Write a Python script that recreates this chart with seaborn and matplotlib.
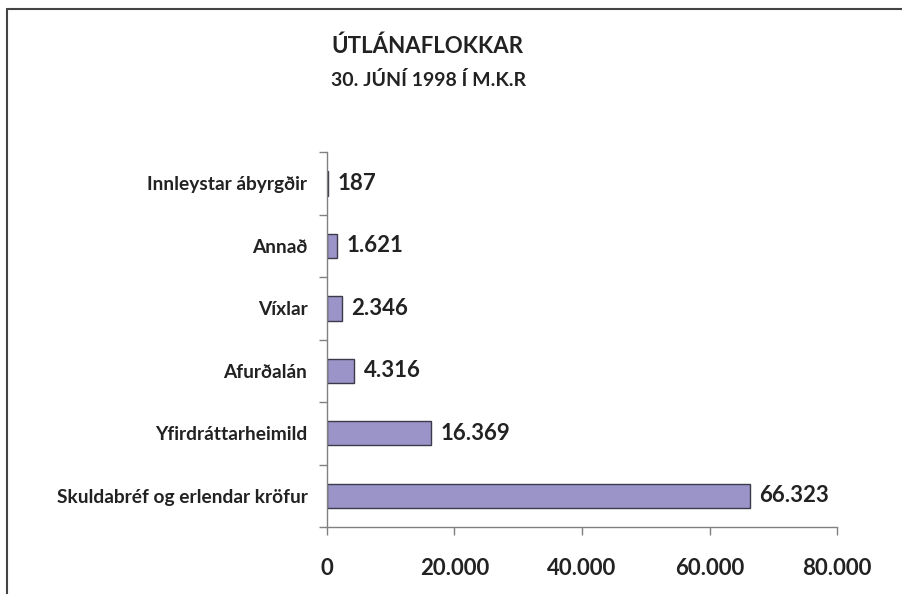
import seaborn as sns
import matplotlib.pyplot as plt
import pandas as pd
from matplotlib.lines import Line2D
from matplotlib.ticker import FuncFormatter

categories = ["Innleystar ábyrgðir", "Annað", "Víxlar", "Afurðalán",
              "Yfirdráttarheimild", "Skuldabréf og erlendar kröfur"]
values = [187, 1621, 2346, 4316, 16369, 66323]

def dotfmt(v):
    return f"{int(round(v)):,}".replace(",", ".")

df = pd.DataFrame({"flokkur": categories, "upphaed": values})

sns.set_style("white")
plt.rcParams["font.family"] = ["Lato", "DejaVu Sans"]

fig = plt.figure(figsize=(9.03, 5.94), dpi=100)
ax = fig.add_axes([0.362, 0.1128, 0.565, 0.631])

sns.barplot(data=df, x="upphaed", y="flokkur", orient="h", ax=ax,
            color="#9b94c8", saturation=1, width=0.39,
            edgecolor="#3a3a4a", linewidth=1)

ax.set_xlim(0, 80000)
ax.set_ylim(5.5, -0.5)
ax.xaxis.set_major_formatter(FuncFormatter(lambda v, p: dotfmt(v)))
ax.set_xticks([0, 20000, 40000, 60000, 80000])

# category ticks sit on the boundaries between bars
ax.set_yticks(range(len(categories)))
ax.set_yticks([i - 0.5 for i in range(len(categories) + 1)], minor=True)
ax.tick_params(axis="y", which="major", length=0, pad=14, labelsize=13.8)
ax.tick_params(axis="y", which="minor", length=6, width=1, color="#808080", left=True)
ax.tick_params(axis="x", length=6, width=1, color="#808080", bottom=True,
               pad=16, labelsize=16)
for lab in ax.get_yticklabels() + ax.get_xticklabels():
    lab.set_fontweight("bold")
    lab.set_color("#222222")

for s in ["top", "right"]:
    ax.spines[s].set_visible(False)
for s in ["left", "bottom"]:
    ax.spines[s].set_color("#808080")
    ax.spines[s].set_linewidth(1)

ax.set_xlabel("")
ax.set_ylabel("")

for i, v in enumerate(values):
    ax.annotate(dotfmt(v), xy=(v, i), xytext=(7, 0), textcoords="offset points",
                va="center", ha="left", fontsize=16, fontweight="bold",
                color="#222222")

fig.text(0.367, 0.922, "ÚTLÁNAFLOKKAR", fontsize=16, fontweight="bold",
         color="#222222", va="center")
fig.text(0.367, 0.865, "30. JÚNÍ 1998 Í M.K.R", fontsize=14, fontweight="bold",
         color="#222222", va="center")

# frame lines of the cropped original
fig.add_artist(Line2D([0.008, 1.0], [0.985, 0.985], color="#444444", lw=1.5))
fig.add_artist(Line2D([0.008, 0.008], [0.0, 0.985], color="#444444", lw=1.5))

fig.savefig("out.png", dpi=100)
